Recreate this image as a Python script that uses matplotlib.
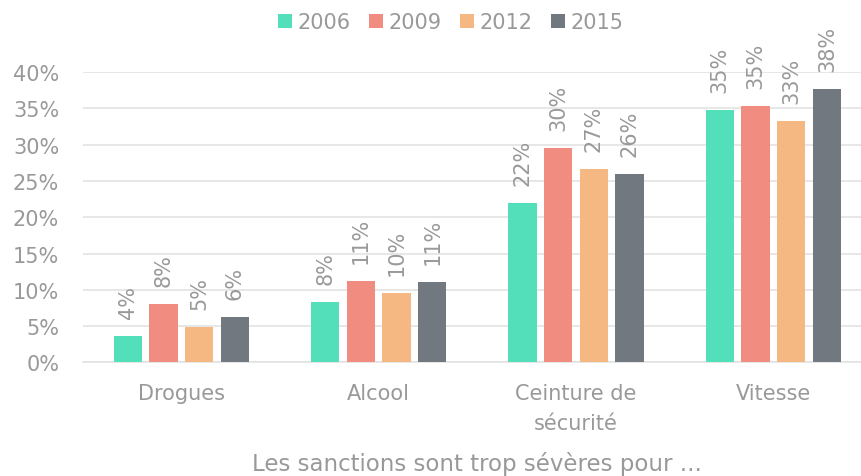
import numpy as np
import matplotlib
matplotlib.use("Agg")
import matplotlib.pyplot as plt

# données (en %)
categories = ["Drogues", "Alcool", "Ceinture de\nsécurité", "Vitesse"]
years = ["2006", "2009", "2012", "2015"]
v2006 = [3.6, 8.3, 21.9, 34.7]
v2009 = [8.1, 11.2, 29.5, 35.3]
v2012 = [4.9, 9.6, 26.6, 33.3]
v2015 = [6.2, 11.1, 25.9, 37.6]
colors = ["#52dfb9", "#f08c80", "#f5b882", "#71787f"]

series = [v2006, v2009, v2012, v2015]
grey = "#999999"

plt.rcParams["font.family"] = ["DejaVu Sans"]
fig = plt.figure(figsize=(8.62, 4.77), dpi=100)
# l'axe déborde un peu à droite, comme dans l'original
ax = fig.add_axes([0.096, 0.238, 0.9156, 0.609])

x = np.arange(len(categories))
width = 0.1434
step = 0.181
for i, (vals, col, yr) in enumerate(zip(series, colors, years)):
    pos = x + (i - 1.5) * step
    bars = ax.bar(pos, vals, width, color=col, label=yr, zorder=3)
    for b, v in zip(bars, vals):
        ax.annotate(f"{v:.0f}%", (b.get_x() + b.get_width() / 2, v),
                    xytext=(0, 13), textcoords="offset points",
                    rotation=90, ha="center", va="bottom",
                    fontsize=15, color=grey, annotation_clip=False)

ax.set_xlim(-0.5, len(categories) - 0.5)
ax.set_ylim(0, 40)
ax.set_yticks(range(0, 41, 5))
ax.set_yticklabels([f"{t}%" for t in range(0, 41, 5)])
ax.yaxis.grid(True, color="#e3e3e3", linewidth=1.2, zorder=0)
ax.set_xticks(x)
ax.set_xticklabels(categories, linespacing=1.6)
ax.tick_params(axis="both", length=0, labelsize=15, labelcolor=grey)
ax.tick_params(axis="x", pad=15)
ax.tick_params(axis="y", pad=17)
for s in ["top", "right", "left"]:
    ax.spines[s].set_visible(False)
ax.spines["bottom"].set_color("#e3e3e3")
ax.spines["bottom"].set_linewidth(1.2)

ax.set_xlabel("Les sanctions sont trop sévères pour ...", fontsize=16.5, color=grey, labelpad=13)

fig.legend(loc="upper center", bbox_to_anchor=(0.523, 1.012), ncol=4, frameon=False,
           fontsize=15, labelcolor=grey, handlelength=0.67, handleheight=0.67,
           handletextpad=0.25, columnspacing=0.9)

fig.savefig("out.png", dpi=100)
